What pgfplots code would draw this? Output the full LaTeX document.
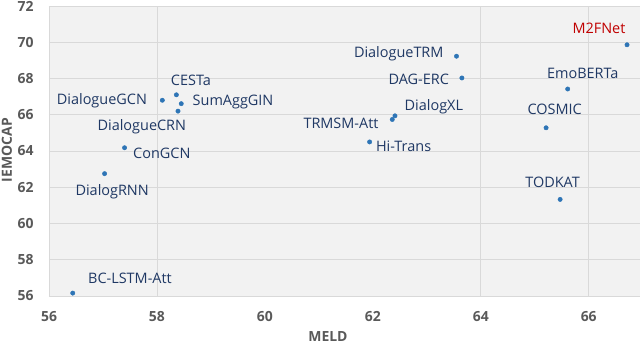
\documentclass[border=0pt]{standalone}
\usepackage{fontspec}
\setmainfont{Open Sans}
\usepackage{pgfplots}
\pgfplotsset{compat=1.18}

\definecolor{plotbg}{HTML}{F2F2F2}
\definecolor{gridc}{HTML}{D9D9D9}
\definecolor{ptblue}{HTML}{2E75B6}
\definecolor{lblblue}{HTML}{1F3864}
\definecolor{tickgray}{HTML}{595959}
\definecolor{m2red}{HTML}{C00000}

\newcommand{\lblfont}{\fontsize{14.5}{16}\selectfont}
\newcommand{\tickfont}{\bfseries\fontsize{14}{16}\selectfont}

\begin{document}
\begin{tikzpicture}
\useasboundingbox (-49bp,-48bp) rectangle (591bp,296bp);
\begin{axis}[
    at={(0,0)}, anchor=south west,
    scale only axis,
    width=591bp, height=290bp,
    xmin=56, xmax=66.95,
    ymin=56, ymax=72,
    xtick={56,58,...,66},
    ytick={56,58,...,72},
    extra x ticks={58,64,66},
    extra x tick labels={},
    extra x tick style={grid=major},
    ymajorgrids,
    grid style={gridc, line width=0.8bp},
    axis background/.style={fill=plotbg},
    axis line style={gridc, line width=0.8bp},
    major tick length=0pt,
    /pgf/number format/assume math mode=true,
    tick label style={font=\tickfont, text=tickgray},
    xticklabel style={yshift=-12bp},
    yticklabel style={xshift=-12bp},
    xlabel={MELD}, ylabel={IEMOCAP},
    every axis x label/.style={at={(axis description cs:0.472,-0.1414)}, anchor=center,
        font=\tickfont, text=tickgray},
    every axis y label/.style={at={(axis description cs:-0.0711,0.503)}, anchor=center,
        rotate=90, font=\tickfont, text=tickgray},
    clip=false,
]
\addplot[only marks, mark=*, mark size=2.2bp, color=ptblue] coordinates {
    (56.44,56.16) (57.03,62.75) (57.40,64.18) (58.10,66.80)
    (58.36,67.10) (58.45,66.61) (58.39,66.20) (61.94,64.50)
    (62.36,65.74) (62.41,65.94) (63.55,69.23) (63.65,68.03)
    (65.21,65.28) (65.61,67.42) (65.47,61.33) (66.71,69.86)
};
\begin{scope}[every node/.style={font=\lblfont, text=lblblue, inner sep=0pt}]
\node at (axis cs:57.50,57.00) {BC-LSTM-Att};
\node at (axis cs:57.17,61.76) {DialogRNN};
\node at (axis cs:58.09,63.86) {ConGCN};
\node at (axis cs:56.98,66.80) {DialogueGCN};
\node at (axis cs:58.63,67.90) {CESTa};
\node at (axis cs:59.41,66.68) {SumAggGIN};
\node at (axis cs:57.72,65.36) {DialogueCRN};
\node at (axis cs:62.57,64.25) {Hi-Trans};
\node at (axis cs:61.41,65.52) {TRMSM-Att};
\node at (axis cs:63.13,66.46) {DialogXL};
\node at (axis cs:62.48,69.34) {DialogueTRM};
\node at (axis cs:62.85,67.96) {DAG-ERC};
\node at (axis cs:65.37,66.30) {COSMIC};
\node at (axis cs:65.89,68.29) {EmoBERTa};
\node at (axis cs:65.33,62.25) {TODKAT};
\node[text=m2red] at (axis cs:66.19,70.78) {M2FNet};
\end{scope}
\end{axis}
\end{tikzpicture}
\end{document}
